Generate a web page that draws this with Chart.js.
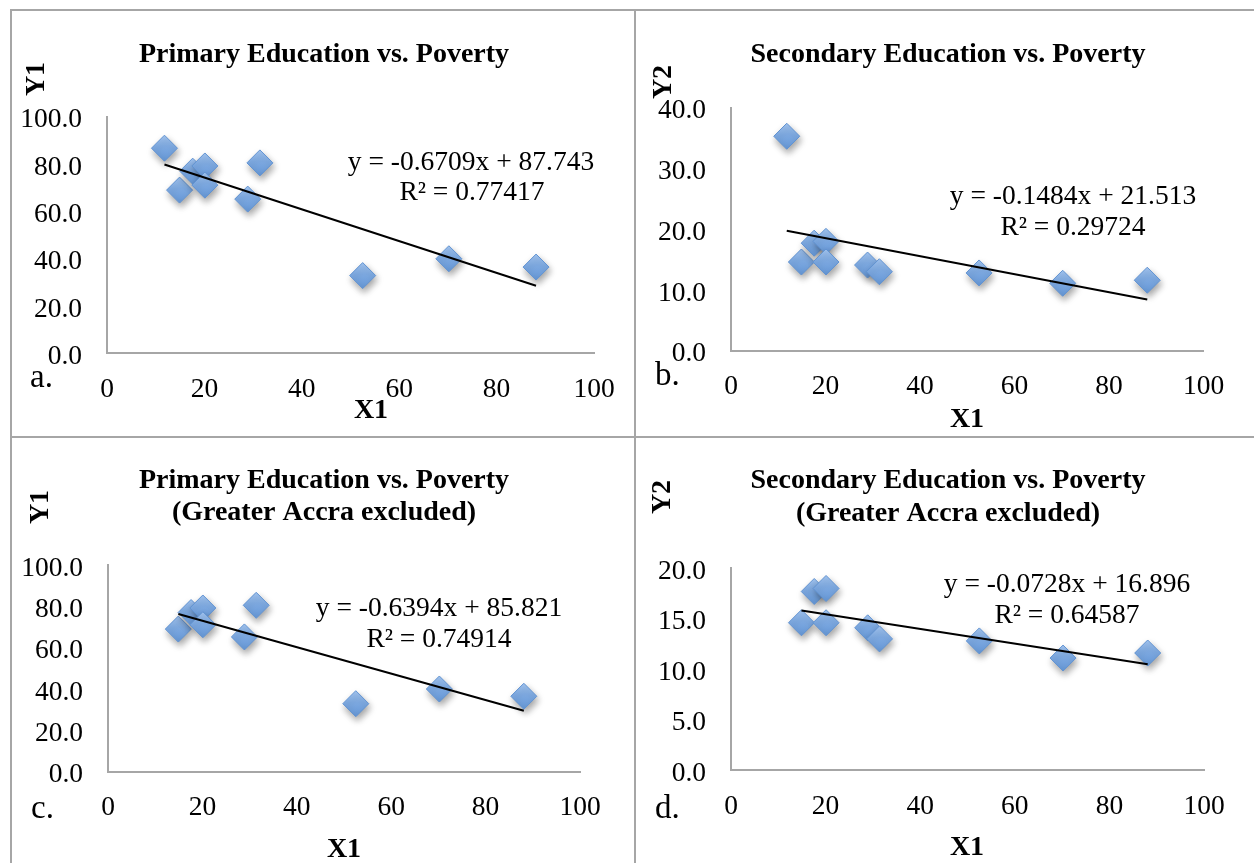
<!DOCTYPE html>
<html>
<head>
<meta charset="utf-8">
<title>Education vs. Poverty</title>
<script src="https://cdn.jsdelivr.net/npm/chart.js@4.4.1/dist/chart.umd.min.js"></script>
<style>
  html, body { margin: 0; padding: 0; background: #ffffff; }
  #page { position: relative; width: 1254px; height: 863px; overflow: hidden; background: #ffffff; }
  #page canvas { position: absolute; left: 0; top: 0; pointer-events: none; }
  .rule { position: absolute; background: #a6a6a6; }
</style>
</head>
<body>
<div id="page">
  <div class="rule" style="left:10px;top:9px;width:1244px;height:2px"></div>
  <div class="rule" style="left:10px;top:9px;width:2px;height:854px"></div>
  <div class="rule" style="left:634px;top:9px;width:2px;height:854px"></div>
  <div class="rule" style="left:10px;top:436px;width:1244px;height:2px"></div>
  <canvas id="chartA" width="1254" height="863"></canvas>
  <canvas id="chartB" width="1254" height="863"></canvas>
  <canvas id="chartC" width="1254" height="863"></canvas>
  <canvas id="chartD" width="1254" height="863"></canvas>
</div>
<script>
// ---- data: one entry per region; the first entry is Greater Accra ----
const X1 = [11.8, 14.9, 17.6, 20.1, 20.1, 28.9, 31.4, 52.5, 70.2, 88.1];
const Y1 = [86.7, 69.0, 77.0, 79.2, 71.1, 65.2, 80.5, 32.9, 40.0, 36.5];
const Y2 = [35.3, 14.6, 17.7, 18.0, 14.6, 14.1, 13.0, 12.8, 11.1, 11.6];
const EXCLUDED_INDEX = 0; // Greater Accra

// ---- linear trendlines (a, b, c, d) ----
const SLOPES     = [-0.6709, -0.1484, -0.6394, -0.0728];
const INTERCEPTS = [87.743, 21.513, 85.821, 16.896];
const R_SQUARED  = [0.77417, 0.29724, 0.74914, 0.64587];

// ---- tick labels ----
const X_TICKS       = [0, 20, 40, 60, 80, 100];
const Y1_TICKS      = [0, 20, 40, 60, 80, 100];
const Y2_TICKS      = [0, 10, 20, 30, 40];
const Y2_TICKS_EXCL = [0, 5, 10, 15, 20];

const TITLES = [
  ['Primary Education vs. Poverty'],
  ['Secondary Education vs. Poverty'],
  ['Primary Education vs. Poverty', '(Greater Accra excluded)'],
  ['Secondary Education vs. Poverty', '(Greater Accra excluded)']
];

const dropExcluded = arr => arr.filter((_, i) => i !== EXCLUDED_INDEX);

// ---- page geometry ----
const PAGE_W = 1254, PAGE_H = 863;
const Y_AXIS_W = 100, X_AXIS_H = 60;
const SERIF = "'Liberation Serif', 'Times New Roman', serif";
const AXIS_GREY = '#a6a6a6';
const MARK_R = 13;

const PANELS = [
  { canvas: 'chartA', xs: X1, ys: Y1, yTicks: Y1_TICKS, letter: 'a.', yTitle: 'Y1',
    area: { L: 107, R: 594, T: 116.7, B: 353.5 },
    titleAt: [[324, 62]], yTitleAt: [37, 79], xTitleAt: [371, 418], letterAt: [30, 387],
    eqAt: [[471, 170], [472, 200]] },
  { canvas: 'chartB', xs: X1, ys: Y2, yTicks: Y2_TICKS, letter: 'b.', yTitle: 'Y2',
    area: { L: 731, R: 1203.5, T: 107.7, B: 350.7 },
    titleAt: [[948, 62]], yTitleAt: [664, 82], xTitleAt: [967, 427], letterAt: [655, 385],
    eqAt: [[1073, 204], [1073, 235]] },
  { canvas: 'chartC', xs: dropExcluded(X1), ys: dropExcluded(Y1), yTicks: Y1_TICKS, letter: 'c.', yTitle: 'Y1',
    area: { L: 108, R: 580, T: 565, B: 771.7 },
    titleAt: [[324, 488], [324, 520]], yTitleAt: [41, 507], xTitleAt: [344, 857], letterAt: [31, 818],
    eqAt: [[439, 616], [439, 647]] },
  { canvas: 'chartD', xs: dropExcluded(X1), ys: dropExcluded(Y2), yTicks: Y2_TICKS_EXCL, letter: 'd.', yTitle: 'Y2',
    area: { L: 731, R: 1204, T: 568.3, B: 770 },
    titleAt: [[948, 488], [948, 521]], yTitleAt: [663, 497], xTitleAt: [967, 855], letterAt: [655, 818],
    eqAt: [[1067, 592], [1067, 623]] }
];

// Soft drop shadow under the diamond markers.
const markerShadow = {
  id: 'markerShadow',
  beforeDatasetDraw(chart, args) {
    if (args.meta.type !== 'scatter') return;
    const ctx = chart.ctx;
    ctx.save();
    ctx.shadowColor = 'rgba(0, 0, 0, 0.36)';
    ctx.shadowBlur = 7;
    ctx.shadowOffsetX = 1.5;
    ctx.shadowOffsetY = 4;
  },
  afterDatasetDraw(chart, args) {
    if (args.meta.type !== 'scatter') return;
    chart.ctx.restore();
  }
};

// Titles, axis titles, panel letter and trendline equation.
function panelText(items) {
  return {
    id: 'panelText',
    afterDraw(chart) {
      const ctx = chart.ctx;
      ctx.save();
      ctx.fillStyle = '#000000';
      for (const t of items) {
        ctx.font = t.font;
        ctx.textAlign = t.align || 'center';
        if (t.rotate) {
          ctx.save();
          ctx.translate(t.x, t.y);
          ctx.rotate(-Math.PI / 2);
          ctx.textBaseline = 'middle';
          ctx.fillText(t.text, 0, 0);
          ctx.restore();
        } else {
          ctx.textBaseline = 'alphabetic';
          ctx.fillText(t.text, t.x, t.y);
        }
      }
      ctx.restore();
    }
  };
}

const FLAT_FILL = '#7aa8e0';
function diamondFill(c) {
  if (c.type !== 'data' || !c.parsed) return FLAT_FILL;
  const ys = c.chart.scales && c.chart.scales.y;
  if (!ys) return FLAT_FILL;
  const py = ys.getPixelForValue(c.parsed.y);
  if (!Number.isFinite(py)) return FLAT_FILL;
  const g = c.chart.ctx.createLinearGradient(0, py - MARK_R, 0, py + MARK_R);
  g.addColorStop(0, '#a2c4ef');
  g.addColorStop(0.45, '#7eaae2');
  g.addColorStop(1, '#6597d6');
  return g;
}

PANELS.forEach((p, k) => {
  const points = p.xs.map((x, i) => ({ x, y: p.ys[i] }));
  const xMin = Math.min(...p.xs), xMax = Math.max(...p.xs);
  const trend = [xMin, xMax].map(x => ({ x, y: INTERCEPTS[k] + SLOPES[k] * x }));

  const titleFont = `bold 28px ${SERIF}`;
  const axisTitleFont = `bold 28px ${SERIF}`;
  const eqFont = `27.5px ${SERIF}`;
  const texts = [];
  TITLES[k].forEach((line, i) =>
    texts.push({ text: line, x: p.titleAt[i][0], y: p.titleAt[i][1], font: titleFont }));
  texts.push({ text: p.yTitle, x: p.yTitleAt[0], y: p.yTitleAt[1], font: axisTitleFont, rotate: true });
  texts.push({ text: 'X1', x: p.xTitleAt[0], y: p.xTitleAt[1], font: axisTitleFont });
  texts.push({ text: p.letter, x: p.letterAt[0], y: p.letterAt[1], font: `33px ${SERIF}`, align: 'left' });
  texts.push({ text: `y = ${SLOPES[k].toFixed(4)}x + ${INTERCEPTS[k]}`, x: p.eqAt[0][0], y: p.eqAt[0][1], font: eqFont });
  texts.push({ text: `R\u00B2 = ${R_SQUARED[k]}`, x: p.eqAt[1][0], y: p.eqAt[1][1], font: eqFont });

  const tickFont = { family: SERIF, size: 27.5 };
  const a = p.area;

  new Chart(document.getElementById(p.canvas), {
    type: 'scatter',
    data: {
      datasets: [
        {
          type: 'line',
          data: trend,
          borderColor: '#000000',
          borderWidth: 2,
          pointRadius: 0,
          fill: false,
          clip: false,
          order: 0
        },
        {
          type: 'scatter',
          data: points,
          pointStyle: 'rectRot',
          pointRadius: MARK_R,
          backgroundColor: diamondFill,
          borderColor: '#6193d2',
          borderWidth: 1,
          clip: false,
          order: 1
        }
      ]
    },
    options: {
      responsive: false,
      animation: false,
      events: [],
      layout: {
        padding: {
          left: a.L - Y_AXIS_W,
          right: PAGE_W - a.R,
          top: a.T,
          bottom: PAGE_H - a.B - X_AXIS_H
        }
      },
      plugins: {
        legend: { display: false },
        tooltip: { enabled: false },
        title: { display: false }
      },
      scales: {
        x: {
          type: 'linear',
          min: X_TICKS[0],
          max: X_TICKS[X_TICKS.length - 1],
          afterBuildTicks: s => { s.ticks = X_TICKS.map(v => ({ value: v })); },
          afterFit: s => { s.height = X_AXIS_H; },
          grid: { display: false, drawTicks: false },
          border: { display: true, color: AXIS_GREY, width: 2 },
          ticks: {
            font: tickFont, color: '#000000', padding: 20,
            maxRotation: 0, autoSkip: false,
            callback: v => String(v)
          }
        },
        y: {
          type: 'linear',
          min: p.yTicks[0],
          max: p.yTicks[p.yTicks.length - 1],
          afterBuildTicks: s => { s.ticks = p.yTicks.map(v => ({ value: v })); },
          afterFit: s => { s.width = Y_AXIS_W; },
          grid: { display: false, drawTicks: false },
          border: { display: true, color: AXIS_GREY, width: 2 },
          ticks: {
            font: tickFont, color: '#000000', padding: 25, labelOffset: 3.5,
            autoSkip: false,
            callback: v => Number(v).toFixed(1)
          }
        }
      }
    },
    plugins: [markerShadow, panelText(texts)]
  });
});
</script>
</body>
</html>
